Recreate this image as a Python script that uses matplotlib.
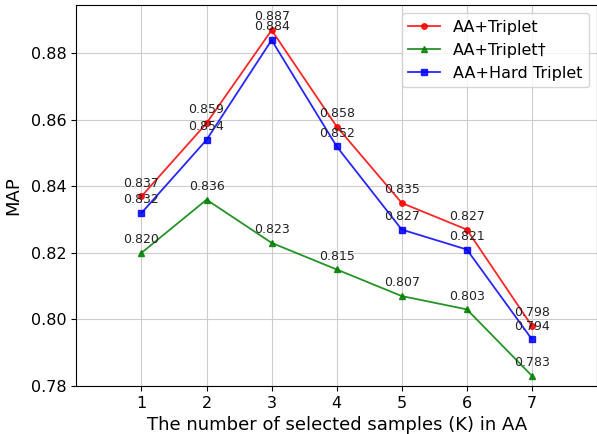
import matplotlib
matplotlib.use("Agg")
import matplotlib.pyplot as plt

K = [1, 2, 3, 4, 5, 6, 7]
aa_triplet = [0.837, 0.859, 0.887, 0.858, 0.835, 0.827, 0.798]
aa_triplet_dag = [0.820, 0.836, 0.823, 0.815, 0.807, 0.803, 0.783]
aa_hard = [0.832, 0.854, 0.884, 0.852, 0.827, 0.821, 0.794]

fig = plt.figure(figsize=(5.97, 4.34), dpi=100)
ax = fig.add_axes([0.128, 0.111, 0.872, 0.877])

series = [
    (aa_triplet, 'red', 'o', 'AA+Triplet'),
    (aa_triplet_dag, 'green', '^', 'AA+Triplet†'),
    (aa_hard, 'blue', 's', 'AA+Hard Triplet'),
]
for vals, c, m, lab in series:
    ax.plot(K, vals, color=c, marker=m, markersize=4, linewidth=1.3, alpha=0.85, label=lab)
    for x, y in zip(K, vals):
        ax.annotate(f"{y:.3f}", (x, y), textcoords='offset points', xytext=(0, 7),
                    ha='center', fontsize=9, color='#222222')

ax.set_xlim(0, 8)
ax.set_ylim(0.78, 0.8945)
ax.set_xticks(K)
ax.set_yticks([0.78, 0.80, 0.82, 0.84, 0.86, 0.88])
ax.tick_params(labelsize=11.5)
ax.grid(True, color='#cccccc', linewidth=0.8)
ax.set_xlabel('The number of selected samples (K) in AA', fontsize=13)
ax.set_ylabel('MAP', fontsize=13, labelpad=6)
ax.legend(loc='upper right', fontsize=11.5)
fig.savefig('out.png', dpi=100)
